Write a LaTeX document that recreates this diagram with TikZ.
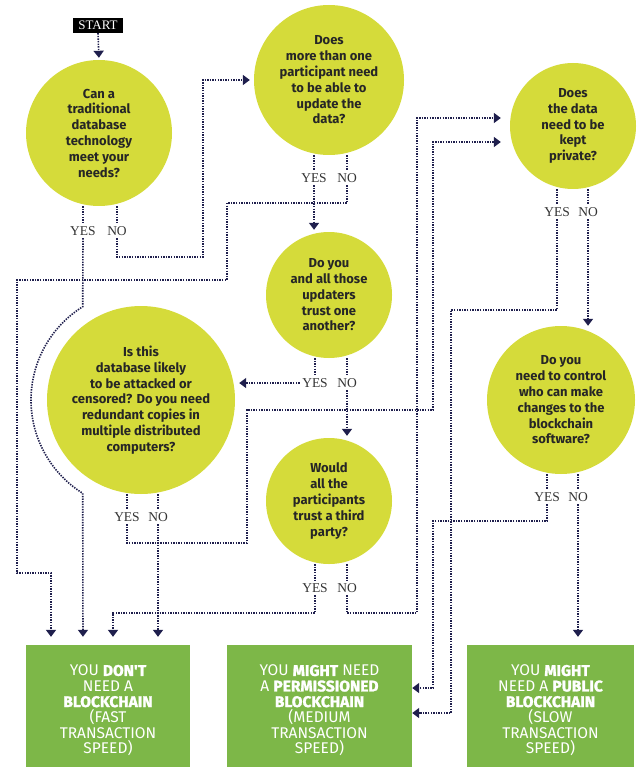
\documentclass[tikz,border=0pt]{standalone}
\usepackage{fontspec}
\setmainfont{Liberation Serif}
\newfontfamily\qfont{Fira Sans}
\newfontfamily\esitofont{Fira Sans}[BoldFeatures={FakeBold=1.6}]
\usetikzlibrary{arrows.meta, calc}
\definecolor{giallo}{RGB}{213,219,58}
\definecolor{verde}{RGB}{125,183,72}
\definecolor{blu}{RGB}{31,31,77}

\tikzset{
    domanda/.style = {circle, fill=giallo, inner sep=0pt, align=center, text=black!85,
        font=\qfont\bfseries\fontsize{13}{15.8}\selectfont},
    esito/.style = {fill=verde, minimum height=122pt, inner sep=0pt, align=center, text=white,
        font=\esitofont\fontsize{15.5}{15.6}\selectfont},
    risposta/.style = {inner sep=2.5pt, text=black!80, font=\fontsize{13.5}{13.5}\selectfont},
    link/.style = {draw=blu, line width=1.6pt, dash pattern=on 1.4pt off 1.2pt},
    freccia/.style = {link, -{Triangle[width=10pt,length=7pt]}},
}

\begin{document}
\begin{tikzpicture}[x=1pt, y=-1pt]
    \useasboundingbox (0,0) rectangle (639,767);
    % Partenza
    \node[fill=black, text=white, minimum width=50pt, minimum height=15pt, inner sep=0pt,
        font=\fontsize{13}{13}\selectfont] (start) at (98,25.5) {START};
    % Domande
    \node[domanda, minimum size=146pt] (q1) at (99,133) {Can a\\traditional\\database\\technology\\meet your\\needs?};
    \node[domanda, minimum size=150pt] (q2) at (329,80) {Does\\more than one\\participant need\\to be able to\\update the\\data?};
    \node[domanda, minimum size=126pt] (q3) at (329,295) {Do you\\and all those\\updaters\\trust one\\another?};
    \node[domanda, minimum size=188pt] (q4) at (141,400) {Is this\\database likely\\to be attacked or\\censored? Do you need\\redundant copies in\\multiple distributed\\computers?};
    \node[domanda, minimum size=126pt] (q5) at (329,501) {Would\\all the\\participants\\trust a third\\party?};
    \node[domanda, minimum size=126pt] (q6) at (573,126) {Does\\the data\\need to be\\kept\\private?};
    \node[domanda, minimum size=148pt] (q7) at (561,400) {Do you\\need to control\\who can make\\changes to the\\blockchain\\software?};
    % Risposte
    \foreach \q/\xs/\xn/\y in {1/83/117/231, 2/314/347/178, 3/315/347/383, 4/127/158/517,
                               5/315/347/588, 6/557/588/212, 7/547/578/497} {
        \node[risposta] (y\q) at (\xs,\y) {YES};
        \node[risposta] (n\q) at (\xn,\y) {NO};
    };
    % Esiti
    \node[esito, minimum width=164pt] (none) at (108,706) {\rule{0pt}{20pt}YOU \textbf{DON'T}\\NEED A\\\textbf{BLOCKCHAIN}\\(FAST\\TRANSACTION\\SPEED)};
    \node[esito, minimum width=185pt] (perm) at (319.5,706) {\rule{0pt}{20pt}YOU \textbf{MIGHT} NEED\\A \textbf{PERMISSIONED}\\\textbf{BLOCKCHAIN}\\(MEDIUM\\TRANSACTION\\SPEED)};
    \node[esito, minimum width=167pt] (pub) at (550.5,706) {\rule{0pt}{20pt}YOU \textbf{MIGHT}\\NEED A \textbf{PUBLIC}\\\textbf{BLOCKCHAIN}\\(SLOW\\TRANSACTION\\SPEED)};
    % Tratti sotto le domande
    \foreach \q in {1,...,7} {
        \draw[link] (y\q |- q\q.south) -- (y\q.north);
        \draw[link] (n\q |- q\q.south) -- (n\q.north);
    };
    % Collegamenti
    \draw[freccia, shorten >=2pt] (start.south) -- (q1.north);
    \draw[freccia, shorten >=8pt] (y1.south) -- ($(q4)+(238:110)$) arc[start angle=238, end angle=122, radius=110] -- ([xshift=-25pt]none.north);
    \draw[freccia, shorten >=4pt] (n1.south) |- (203,257) |- (q2.west);
    \draw[freccia, shorten >=2pt] (y2.south) -- (y2 |- q3.north);
    \draw[freccia, shorten >=8pt] (n2.south) |- (227,203) |- (17,280) |- (51,573) -- ([xshift=-57pt]none.north);
    \draw[freccia, shorten >=4pt] (y3.west) -- (y3 -| q4.east);
    \draw[freccia, shorten >=2pt] (n3.south) -- (n3 |- q5.north);
    \draw[freccia, shorten >=9pt] (y4.south) |- (247,543) |- (433,410) |- ([yshift=-16pt]q6.west);
    \draw[freccia, shorten >=8pt] (n4.south) -- ([xshift=50pt]none.north);
    \draw[freccia, shorten >=8pt] (y5.south) |- (113,613) -- ([xshift=5pt]none.north);
    \draw[freccia, shorten >=9pt] (n5.south) |- (417,613) |- ([yshift=8pt]q6.west);
    \draw[freccia] (y6.south) |- (451,310) |- ([yshift=-7pt]perm.east);
    \draw[freccia] (n6.south) -- (n6 |- q7.north);
    \draw[freccia] (y7.south) |- (433,521) |- ([yshift=18pt]perm.east);
    \draw[freccia, shorten >=8pt] (n7.south) -- (n7 |- pub.north);
\end{tikzpicture}
\end{document}
